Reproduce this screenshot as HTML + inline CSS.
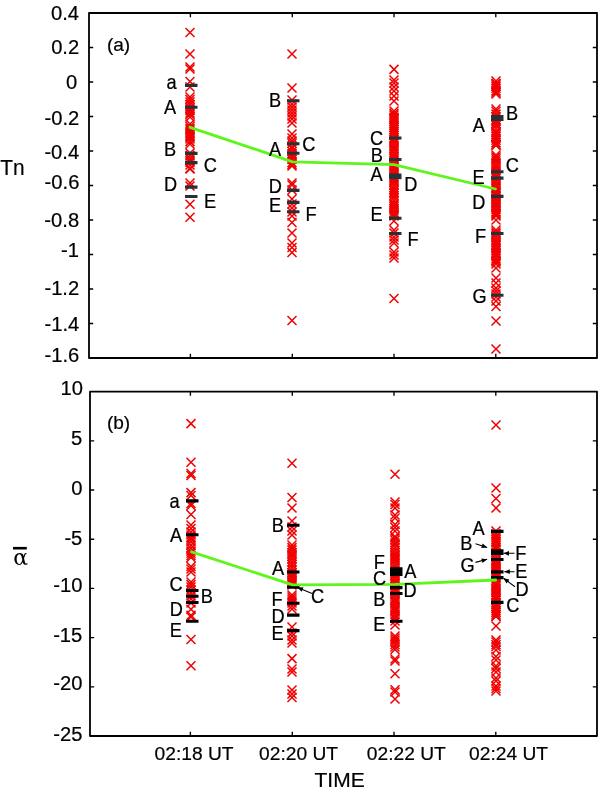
<!DOCTYPE html>
<html><head><meta charset="utf-8"><title>Tn and alpha vs time</title>
<style>html,body{margin:0;padding:0;background:#fff;}svg{display:block;}</style>
</head><body>
<svg width="600" height="792" viewBox="0 0 600 792">
<rect width="600" height="792" fill="#fff"/>
<path d="M89 47.5h4.2M597 47.5h-4.2M89 82.0h4.2M597 82.0h-4.2M89 116.5h4.2M597 116.5h-4.2M89 151.0h4.2M597 151.0h-4.2M89 185.5h4.2M597 185.5h-4.2M89 220.0h4.2M597 220.0h-4.2M89 254.5h4.2M597 254.5h-4.2M89 289.0h4.2M597 289.0h-4.2M89 323.5h4.2M597 323.5h-4.2M190.4 13v4.2M190.4 358v-4.2M292.3 13v4.2M292.3 358v-4.2M394 13v4.2M394 358v-4.2M495.8 13v4.2M495.8 358v-4.2" stroke="#000" stroke-width="1.35" fill="none"/>
<rect x="89" y="13" width="508" height="345" fill="none" stroke="#000" stroke-width="1.8" stroke-linejoin="round"/>
<path d="M90 440.8h4.2M597 440.8h-4.2M90 490.0h4.2M597 490.0h-4.2M90 539.2h4.2M597 539.2h-4.2M90 588.4h4.2M597 588.4h-4.2M90 637.6h4.2M597 637.6h-4.2M90 686.8h4.2M597 686.8h-4.2M190.4 391.6v4.2M190.4 736v-4.2M292.3 391.6v4.2M292.3 736v-4.2M394 391.6v4.2M394 736v-4.2M495.8 391.6v4.2M495.8 736v-4.2" stroke="#000" stroke-width="1.35" fill="none"/>
<rect x="90" y="391.6" width="507" height="344.4" fill="none" stroke="#000" stroke-width="1.8" stroke-linejoin="round"/>
<g font-family='"Liberation Sans", Arial, Helvetica, sans-serif' fill="#000" stroke="#000" stroke-width="0.2">
<text transform="translate(50.92 19.65) scale(1.03 1)" font-size="19.6">0.4</text>
<text transform="translate(51.13 53.65) scale(1.03 1)" font-size="19.6">0.2</text>
<text transform="translate(65.94 88.55) scale(1.03 1)" font-size="19.6">0</text>
<text transform="translate(44.47 124.75) scale(1.03 1)" font-size="19.6">-0.2</text>
<text transform="translate(44.40 158.55) scale(1.03 1)" font-size="19.6">-0.4</text>
<text transform="translate(44.60 189.35) scale(1.03 1)" font-size="19.6">-0.6</text>
<text transform="translate(44.35 226.65) scale(1.03 1)" font-size="19.6">-0.8</text>
<text transform="translate(60.92 257.24) scale(1.03 1)" font-size="19.6">-1</text>
<text transform="translate(44.42 294.64) scale(1.03 1)" font-size="19.6">-1.2</text>
<text transform="translate(44.45 331.04) scale(1.03 1)" font-size="19.6">-1.4</text>
<text transform="translate(44.45 362.05) scale(1.03 1)" font-size="19.6">-1.6</text>
<text transform="translate(60.50 395.05) scale(1.03 1)" font-size="19.6">10</text>
<text transform="translate(71.11 445.25) scale(1.03 1)" font-size="19.6">5</text>
<text transform="translate(71.19 494.65) scale(1.03 1)" font-size="19.6">0</text>
<text transform="translate(64.40 544.55) scale(1.03 1)" font-size="19.6">-5</text>
<text transform="translate(53.31 592.35) scale(1.03 1)" font-size="19.6">-10</text>
<text transform="translate(53.14 642.45) scale(1.03 1)" font-size="19.6">-15</text>
<text transform="translate(53.26 690.45) scale(1.03 1)" font-size="19.6">-20</text>
<text transform="translate(53.29 741.15) scale(1.03 1)" font-size="19.6">-25</text>
<text x="154.56" y="759.61" font-size="19.2">02:18 UT</text>
<text x="259.06" y="759.71" font-size="19.2">02:20 UT</text>
<text x="366.86" y="759.61" font-size="19.2">02:22 UT</text>
<text x="469.06" y="759.61" font-size="19.2">02:24 UT</text>
<text x="314.53" y="786.72" font-size="21">TIME</text>
<text transform="translate(0.25 174.57) scale(0.95 1)" font-size="22">Tn</text>
<text x="106.88" y="50.79" font-size="19.1">(a)</text>
<text x="106.88" y="429.34" font-size="19.1">(b)</text>
</g>
<g stroke="#f00000" stroke-width="1.5" fill="none">
<path d="M185.5 28.0L194.5 37.0M185.5 37.0L194.5 28.0"/>
<path d="M185.5 49.5L194.5 58.5M185.5 58.5L194.5 49.5"/>
<path d="M185.5 62.5L194.5 71.5M185.5 71.5L194.5 62.5"/>
<path d="M185.5 64.5L194.5 73.5M185.5 73.5L194.5 64.5"/>
<path d="M185.5 77.0L194.5 86.0M185.5 86.0L194.5 77.0"/>
<path d="M185.5 82.5L194.5 91.5M185.5 91.5L194.5 82.5"/>
<path d="M185.5 92.5L194.5 101.5M185.5 101.5L194.5 92.5"/>
<path d="M185.5 95.0L194.5 104.0M185.5 104.0L194.5 95.0"/>
<path d="M185.5 97.5L194.5 106.5M185.5 106.5L194.5 97.5"/>
<path d="M185.5 100.0L194.5 109.0M185.5 109.0L194.5 100.0"/>
<path d="M185.5 102.5L194.5 111.5M185.5 111.5L194.5 102.5"/>
<path d="M185.5 104.4L194.5 113.4M185.5 113.4L194.5 104.4"/>
<path d="M185.5 106.1L194.5 115.1M185.5 115.1L194.5 106.1"/>
<path d="M185.5 108.5L194.5 117.5M185.5 117.5L194.5 108.5"/>
<path d="M185.5 110.0L194.5 119.0M185.5 119.0L194.5 110.0"/>
<path d="M185.5 112.5L194.5 121.5M185.5 121.5L194.5 112.5"/>
<path d="M185.5 119.5L194.5 128.5M185.5 128.5L194.5 119.5"/>
<path d="M185.5 122.0L194.5 131.0M185.5 131.0L194.5 122.0"/>
<path d="M185.5 124.0L194.5 133.0M185.5 133.0L194.5 124.0"/>
<path d="M185.5 125.5L194.5 134.5M185.5 134.5L194.5 125.5"/>
<path d="M185.5 127.7L194.5 136.7M185.5 136.7L194.5 127.7"/>
<path d="M185.5 129.2L194.5 138.2M185.5 138.2L194.5 129.2"/>
<path d="M185.5 131.3L194.5 140.3M185.5 140.3L194.5 131.3"/>
<path d="M185.5 132.8L194.5 141.8M185.5 141.8L194.5 132.8"/>
<path d="M185.5 134.5L194.5 143.5M185.5 143.5L194.5 134.5"/>
<path d="M185.5 137.1L194.5 146.1M185.5 146.1L194.5 137.1"/>
<path d="M185.5 139.5L194.5 148.5M185.5 148.5L194.5 139.5"/>
<path d="M185.5 148.5L194.5 157.5M185.5 157.5L194.5 148.5"/>
<path d="M185.5 150.9L194.5 159.9M185.5 159.9L194.5 150.9"/>
<path d="M185.5 154.0L194.5 163.0M185.5 163.0L194.5 154.0"/>
<path d="M185.5 155.8L194.5 164.8M185.5 164.8L194.5 155.8"/>
<path d="M185.5 157.8L194.5 166.8M185.5 166.8L194.5 157.8"/>
<path d="M185.5 160.5L194.5 169.5M185.5 169.5L194.5 160.5"/>
<path d="M185.5 163.8L194.5 172.8M185.5 172.8L194.5 163.8"/>
<path d="M185.5 164.5L194.5 173.5M185.5 173.5L194.5 164.5"/>
<path d="M185.5 178.5L194.5 187.5M185.5 187.5L194.5 178.5"/>
<path d="M185.5 181.5L194.5 190.5M185.5 190.5L194.5 181.5"/>
<path d="M185.5 199.8L194.5 208.8M185.5 208.8L194.5 199.8"/>
<path d="M185.5 212.7L194.5 221.7M185.5 221.7L194.5 212.7"/>
<path d="M287.5 49.5L296.5 58.5M287.5 58.5L296.5 49.5"/>
<path d="M287.5 83.5L296.5 92.5M287.5 92.5L296.5 83.5"/>
<path d="M287.5 95.5L296.5 104.5M287.5 104.5L296.5 95.5"/>
<path d="M287.5 99.5L296.5 108.5M287.5 108.5L296.5 99.5"/>
<path d="M287.5 102.5L296.5 111.5M287.5 111.5L296.5 102.5"/>
<path d="M287.5 105.5L296.5 114.5M287.5 114.5L296.5 105.5"/>
<path d="M287.5 108.5L296.5 117.5M287.5 117.5L296.5 108.5"/>
<path d="M287.5 111.5L296.5 120.5M287.5 120.5L296.5 111.5"/>
<path d="M287.5 114.5L296.5 123.5M287.5 123.5L296.5 114.5"/>
<path d="M287.5 118.5L296.5 127.5M287.5 127.5L296.5 118.5"/>
<path d="M287.5 129.5L296.5 138.5M287.5 138.5L296.5 129.5"/>
<path d="M287.5 133.5L296.5 142.5M287.5 142.5L296.5 133.5"/>
<path d="M287.5 136.5L296.5 145.5M287.5 145.5L296.5 136.5"/>
<path d="M287.5 138.8L296.5 147.8M287.5 147.8L296.5 138.8"/>
<path d="M287.5 142.2L296.5 151.2M287.5 151.2L296.5 142.2"/>
<path d="M287.5 143.9L296.5 152.9M287.5 152.9L296.5 143.9"/>
<path d="M287.5 147.0L296.5 156.0M287.5 156.0L296.5 147.0"/>
<path d="M287.5 149.1L296.5 158.1M287.5 158.1L296.5 149.1"/>
<path d="M287.5 151.0L296.5 160.0M287.5 160.0L296.5 151.0"/>
<path d="M287.5 152.8L296.5 161.8M287.5 161.8L296.5 152.8"/>
<path d="M287.5 154.9L296.5 163.9M287.5 163.9L296.5 154.9"/>
<path d="M287.5 158.0L296.5 167.0M287.5 167.0L296.5 158.0"/>
<path d="M287.5 159.9L296.5 168.9M287.5 168.9L296.5 159.9"/>
<path d="M287.5 161.5L296.5 170.5M287.5 170.5L296.5 161.5"/>
<path d="M287.5 178.5L296.5 187.5M287.5 187.5L296.5 178.5"/>
<path d="M287.5 180.5L296.5 189.5M287.5 189.5L296.5 180.5"/>
<path d="M287.5 185.5L296.5 194.5M287.5 194.5L296.5 185.5"/>
<path d="M287.5 194.5L296.5 203.5M287.5 203.5L296.5 194.5"/>
<path d="M287.5 199.5L296.5 208.5M287.5 208.5L296.5 199.5"/>
<path d="M287.5 203.5L296.5 212.5M287.5 212.5L296.5 203.5"/>
<path d="M287.5 207.5L296.5 216.5M287.5 216.5L296.5 207.5"/>
<path d="M287.5 211.5L296.5 220.5M287.5 220.5L296.5 211.5"/>
<path d="M287.5 218.0L296.5 227.0M287.5 227.0L296.5 218.0"/>
<path d="M287.5 228.5L296.5 237.5M287.5 237.5L296.5 228.5"/>
<path d="M287.5 238.5L296.5 247.5M287.5 247.5L296.5 238.5"/>
<path d="M287.5 243.0L296.5 252.0M287.5 252.0L296.5 243.0"/>
<path d="M287.5 248.0L296.5 257.0M287.5 257.0L296.5 248.0"/>
<path d="M287.5 316.0L296.5 325.0M287.5 325.0L296.5 316.0"/>
<path d="M389.5 64.9L398.5 73.9M389.5 73.9L398.5 64.9"/>
<path d="M389.5 75.5L398.5 84.5M389.5 84.5L398.5 75.5"/>
<path d="M389.5 78.5L398.5 87.5M389.5 87.5L398.5 78.5"/>
<path d="M389.5 82.5L398.5 91.5M389.5 91.5L398.5 82.5"/>
<path d="M389.5 86.5L398.5 95.5M389.5 95.5L398.5 86.5"/>
<path d="M389.5 91.5L398.5 100.5M389.5 100.5L398.5 91.5"/>
<path d="M389.5 96.5L398.5 105.5M389.5 105.5L398.5 96.5"/>
<path d="M389.5 106.5L398.5 115.5M389.5 115.5L398.5 106.5"/>
<path d="M389.5 108.7L398.5 117.7M389.5 117.7L398.5 108.7"/>
<path d="M389.5 110.5L398.5 119.5M389.5 119.5L398.5 110.5"/>
<path d="M389.5 112.6L398.5 121.6M389.5 121.6L398.5 112.6"/>
<path d="M389.5 114.0L398.5 123.0M389.5 123.0L398.5 114.0"/>
<path d="M389.5 115.3L398.5 124.3M389.5 124.3L398.5 115.3"/>
<path d="M389.5 116.9L398.5 125.9M389.5 125.9L398.5 116.9"/>
<path d="M389.5 119.2L398.5 128.2M389.5 128.2L398.5 119.2"/>
<path d="M389.5 121.1L398.5 130.1M389.5 130.1L398.5 121.1"/>
<path d="M389.5 122.8L398.5 131.8M389.5 131.8L398.5 122.8"/>
<path d="M389.5 124.9L398.5 133.9M389.5 133.9L398.5 124.9"/>
<path d="M389.5 126.8L398.5 135.8M389.5 135.8L398.5 126.8"/>
<path d="M389.5 128.6L398.5 137.6M389.5 137.6L398.5 128.6"/>
<path d="M389.5 131.0L398.5 140.0M389.5 140.0L398.5 131.0"/>
<path d="M389.5 133.3L398.5 142.3M389.5 142.3L398.5 133.3"/>
<path d="M389.5 134.9L398.5 143.9M389.5 143.9L398.5 134.9"/>
<path d="M389.5 137.0L398.5 146.0M389.5 146.0L398.5 137.0"/>
<path d="M389.5 139.0L398.5 148.0M389.5 148.0L398.5 139.0"/>
<path d="M389.5 141.6L398.5 150.6M389.5 150.6L398.5 141.6"/>
<path d="M389.5 143.9L398.5 152.9M389.5 152.9L398.5 143.9"/>
<path d="M389.5 145.6L398.5 154.6M389.5 154.6L398.5 145.6"/>
<path d="M389.5 148.3L398.5 157.3M389.5 157.3L398.5 148.3"/>
<path d="M389.5 149.7L398.5 158.7M389.5 158.7L398.5 149.7"/>
<path d="M389.5 151.6L398.5 160.6M389.5 160.6L398.5 151.6"/>
<path d="M389.5 154.0L398.5 163.0M389.5 163.0L398.5 154.0"/>
<path d="M389.5 155.5L398.5 164.5M389.5 164.5L398.5 155.5"/>
<path d="M389.5 157.5L398.5 166.5M389.5 166.5L398.5 157.5"/>
<path d="M389.5 158.8L398.5 167.8M389.5 167.8L398.5 158.8"/>
<path d="M389.5 161.1L398.5 170.1M389.5 170.1L398.5 161.1"/>
<path d="M389.5 163.4L398.5 172.4M389.5 172.4L398.5 163.4"/>
<path d="M389.5 165.5L398.5 174.5M389.5 174.5L398.5 165.5"/>
<path d="M389.5 168.1L398.5 177.1M389.5 177.1L398.5 168.1"/>
<path d="M389.5 169.8L398.5 178.8M389.5 178.8L398.5 169.8"/>
<path d="M389.5 172.1L398.5 181.1M389.5 181.1L398.5 172.1"/>
<path d="M389.5 174.2L398.5 183.2M389.5 183.2L398.5 174.2"/>
<path d="M389.5 176.4L398.5 185.4M389.5 185.4L398.5 176.4"/>
<path d="M389.5 178.3L398.5 187.3M389.5 187.3L398.5 178.3"/>
<path d="M389.5 180.8L398.5 189.8M389.5 189.8L398.5 180.8"/>
<path d="M389.5 183.4L398.5 192.4M389.5 192.4L398.5 183.4"/>
<path d="M389.5 185.4L398.5 194.4M389.5 194.4L398.5 185.4"/>
<path d="M389.5 187.6L398.5 196.6M389.5 196.6L398.5 187.6"/>
<path d="M389.5 189.0L398.5 198.0M389.5 198.0L398.5 189.0"/>
<path d="M389.5 191.3L398.5 200.3M389.5 200.3L398.5 191.3"/>
<path d="M389.5 193.5L398.5 202.5M389.5 202.5L398.5 193.5"/>
<path d="M389.5 196.2L398.5 205.2M389.5 205.2L398.5 196.2"/>
<path d="M389.5 198.7L398.5 207.7M389.5 207.7L398.5 198.7"/>
<path d="M389.5 200.3L398.5 209.3M389.5 209.3L398.5 200.3"/>
<path d="M389.5 202.2L398.5 211.2M389.5 211.2L398.5 202.2"/>
<path d="M389.5 204.4L398.5 213.4M389.5 213.4L398.5 204.4"/>
<path d="M389.5 205.7L398.5 214.7M389.5 214.7L398.5 205.7"/>
<path d="M389.5 207.7L398.5 216.7M389.5 216.7L398.5 207.7"/>
<path d="M389.5 209.2L398.5 218.2M389.5 218.2L398.5 209.2"/>
<path d="M389.5 210.7L398.5 219.7M389.5 219.7L398.5 210.7"/>
<path d="M389.5 211.5L398.5 220.5M389.5 220.5L398.5 211.5"/>
<path d="M389.5 216.5L398.5 225.5M389.5 225.5L398.5 216.5"/>
<path d="M389.5 225.5L398.5 234.5M389.5 234.5L398.5 225.5"/>
<path d="M389.5 228.5L398.5 237.5M389.5 237.5L398.5 228.5"/>
<path d="M389.5 232.5L398.5 241.5M389.5 241.5L398.5 232.5"/>
<path d="M389.5 235.5L398.5 244.5M389.5 244.5L398.5 235.5"/>
<path d="M389.5 238.5L398.5 247.5M389.5 247.5L398.5 238.5"/>
<path d="M389.5 247.5L398.5 256.5M389.5 256.5L398.5 247.5"/>
<path d="M389.5 250.5L398.5 259.5M389.5 259.5L398.5 250.5"/>
<path d="M389.5 253.5L398.5 262.5M389.5 262.5L398.5 253.5"/>
<path d="M389.5 294.0L398.5 303.0M389.5 303.0L398.5 294.0"/>
<path d="M491.5 76.5L500.5 85.5M491.5 85.5L500.5 76.5"/>
<path d="M491.5 78.9L500.5 87.9M491.5 87.9L500.5 78.9"/>
<path d="M491.5 80.4L500.5 89.4M491.5 89.4L500.5 80.4"/>
<path d="M491.5 82.0L500.5 91.0M491.5 91.0L500.5 82.0"/>
<path d="M491.5 83.8L500.5 92.8M491.5 92.8L500.5 83.8"/>
<path d="M491.5 86.4L500.5 95.4M491.5 95.4L500.5 86.4"/>
<path d="M491.5 87.8L500.5 96.8M491.5 96.8L500.5 87.8"/>
<path d="M491.5 89.5L500.5 98.5M491.5 98.5L500.5 89.5"/>
<path d="M491.5 104.5L500.5 113.5M491.5 113.5L500.5 104.5"/>
<path d="M491.5 106.8L500.5 115.8M491.5 115.8L500.5 106.8"/>
<path d="M491.5 109.6L500.5 118.6M491.5 118.6L500.5 109.6"/>
<path d="M491.5 112.3L500.5 121.3M491.5 121.3L500.5 112.3"/>
<path d="M491.5 115.1L500.5 124.1M491.5 124.1L500.5 115.1"/>
<path d="M491.5 116.9L500.5 125.9M491.5 125.9L500.5 116.9"/>
<path d="M491.5 119.0L500.5 128.0M491.5 128.0L500.5 119.0"/>
<path d="M491.5 121.0L500.5 130.0M491.5 130.0L500.5 121.0"/>
<path d="M491.5 123.8L500.5 132.8M491.5 132.8L500.5 123.8"/>
<path d="M491.5 126.7L500.5 135.7M491.5 135.7L500.5 126.7"/>
<path d="M491.5 128.3L500.5 137.3M491.5 137.3L500.5 128.3"/>
<path d="M491.5 130.0L500.5 139.0M491.5 139.0L500.5 130.0"/>
<path d="M491.5 131.8L500.5 140.8M491.5 140.8L500.5 131.8"/>
<path d="M491.5 133.6L500.5 142.6M491.5 142.6L500.5 133.6"/>
<path d="M491.5 135.8L500.5 144.8M491.5 144.8L500.5 135.8"/>
<path d="M491.5 138.1L500.5 147.1M491.5 147.1L500.5 138.1"/>
<path d="M491.5 139.9L500.5 148.9M491.5 148.9L500.5 139.9"/>
<path d="M491.5 141.0L500.5 150.0M491.5 150.0L500.5 141.0"/>
<path d="M491.5 150.5L500.5 159.5M491.5 159.5L500.5 150.5"/>
<path d="M491.5 152.4L500.5 161.4M491.5 161.4L500.5 152.4"/>
<path d="M491.5 154.2L500.5 163.2M491.5 163.2L500.5 154.2"/>
<path d="M491.5 156.3L500.5 165.3M491.5 165.3L500.5 156.3"/>
<path d="M491.5 158.9L500.5 167.9M491.5 167.9L500.5 158.9"/>
<path d="M491.5 161.2L500.5 170.2M491.5 170.2L500.5 161.2"/>
<path d="M491.5 163.2L500.5 172.2M491.5 172.2L500.5 163.2"/>
<path d="M491.5 165.4L500.5 174.4M491.5 174.4L500.5 165.4"/>
<path d="M491.5 167.7L500.5 176.7M491.5 176.7L500.5 167.7"/>
<path d="M491.5 169.0L500.5 178.0M491.5 178.0L500.5 169.0"/>
<path d="M491.5 171.6L500.5 180.6M491.5 180.6L500.5 171.6"/>
<path d="M491.5 174.0L500.5 183.0M491.5 183.0L500.5 174.0"/>
<path d="M491.5 176.5L500.5 185.5M491.5 185.5L500.5 176.5"/>
<path d="M491.5 179.0L500.5 188.0M491.5 188.0L500.5 179.0"/>
<path d="M491.5 180.8L500.5 189.8M491.5 189.8L500.5 180.8"/>
<path d="M491.5 182.7L500.5 191.7M491.5 191.7L500.5 182.7"/>
<path d="M491.5 184.1L500.5 193.1M491.5 193.1L500.5 184.1"/>
<path d="M491.5 186.3L500.5 195.3M491.5 195.3L500.5 186.3"/>
<path d="M491.5 187.7L500.5 196.7M491.5 196.7L500.5 187.7"/>
<path d="M491.5 189.0L500.5 198.0M491.5 198.0L500.5 189.0"/>
<path d="M491.5 190.6L500.5 199.6M491.5 199.6L500.5 190.6"/>
<path d="M491.5 192.1L500.5 201.1M491.5 201.1L500.5 192.1"/>
<path d="M491.5 193.9L500.5 202.9M491.5 202.9L500.5 193.9"/>
<path d="M491.5 195.3L500.5 204.3M491.5 204.3L500.5 195.3"/>
<path d="M491.5 196.5L500.5 205.5M491.5 205.5L500.5 196.5"/>
<path d="M491.5 198.0L500.5 207.0M491.5 207.0L500.5 198.0"/>
<path d="M491.5 199.5L500.5 208.5M491.5 208.5L500.5 199.5"/>
<path d="M491.5 201.3L500.5 210.3M491.5 210.3L500.5 201.3"/>
<path d="M491.5 202.6L500.5 211.6M491.5 211.6L500.5 202.6"/>
<path d="M491.5 205.1L500.5 214.1M491.5 214.1L500.5 205.1"/>
<path d="M491.5 207.3L500.5 216.3M491.5 216.3L500.5 207.3"/>
<path d="M491.5 208.8L500.5 217.8M491.5 217.8L500.5 208.8"/>
<path d="M491.5 210.4L500.5 219.4M491.5 219.4L500.5 210.4"/>
<path d="M491.5 211.5L500.5 220.5M491.5 220.5L500.5 211.5"/>
<path d="M491.5 215.5L500.5 224.5M491.5 224.5L500.5 215.5"/>
<path d="M491.5 225.5L500.5 234.5M491.5 234.5L500.5 225.5"/>
<path d="M491.5 227.5L500.5 236.5M491.5 236.5L500.5 227.5"/>
<path d="M491.5 229.3L500.5 238.3M491.5 238.3L500.5 229.3"/>
<path d="M491.5 230.8L500.5 239.8M491.5 239.8L500.5 230.8"/>
<path d="M491.5 233.3L500.5 242.3M491.5 242.3L500.5 233.3"/>
<path d="M491.5 236.0L500.5 245.0M491.5 245.0L500.5 236.0"/>
<path d="M491.5 237.9L500.5 246.9M491.5 246.9L500.5 237.9"/>
<path d="M491.5 239.9L500.5 248.9M491.5 248.9L500.5 239.9"/>
<path d="M491.5 241.3L500.5 250.3M491.5 250.3L500.5 241.3"/>
<path d="M491.5 242.7L500.5 251.7M491.5 251.7L500.5 242.7"/>
<path d="M491.5 244.5L500.5 253.5M491.5 253.5L500.5 244.5"/>
<path d="M491.5 246.2L500.5 255.2M491.5 255.2L500.5 246.2"/>
<path d="M491.5 248.6L500.5 257.6M491.5 257.6L500.5 248.6"/>
<path d="M491.5 250.2L500.5 259.2M491.5 259.2L500.5 250.2"/>
<path d="M491.5 251.5L500.5 260.5M491.5 260.5L500.5 251.5"/>
<path d="M491.5 254.1L500.5 263.1M491.5 263.1L500.5 254.1"/>
<path d="M491.5 256.2L500.5 265.2M491.5 265.2L500.5 256.2"/>
<path d="M491.5 257.5L500.5 266.5M491.5 266.5L500.5 257.5"/>
<path d="M491.5 259.5L500.5 268.5M491.5 268.5L500.5 259.5"/>
<path d="M491.5 263.5L500.5 272.5M491.5 272.5L500.5 263.5"/>
<path d="M491.5 273.5L500.5 282.5M491.5 282.5L500.5 273.5"/>
<path d="M491.5 278.5L500.5 287.5M491.5 287.5L500.5 278.5"/>
<path d="M491.5 283.5L500.5 292.5M491.5 292.5L500.5 283.5"/>
<path d="M491.5 286.5L500.5 295.5M491.5 295.5L500.5 286.5"/>
<path d="M491.5 289.5L500.5 298.5M491.5 298.5L500.5 289.5"/>
<path d="M491.5 292.5L500.5 301.5M491.5 301.5L500.5 292.5"/>
<path d="M491.5 296.5L500.5 305.5M491.5 305.5L500.5 296.5"/>
<path d="M491.5 302.0L500.5 311.0M491.5 311.0L500.5 302.0"/>
<path d="M491.5 316.5L500.5 325.5M491.5 325.5L500.5 316.5"/>
<path d="M491.5 344.5L500.5 353.5M491.5 353.5L500.5 344.5"/>
</g>
<path d="M185.0 85.4h12.5M185.0 107.2h12.5M185.0 153.4h12.5M185.0 162.6h12.5M185.0 187.1h12.5M185.0 196.5h12.5M287.0 100.7h12.5M287.0 143.8h12.5M287.0 153.3h12.5M287.0 190.4h12.5M287.0 202.4h12.5M287.0 211.8h12.5M389.0 138.0h12.5M389.0 159.5h12.5M389.0 175.0h12.5M389.0 177.8h12.5M389.0 218.2h12.5M389.0 233.5h12.5M491.0 116.5h12.5M491.0 119.4h12.5M491.0 171.7h12.5M491.0 178.1h12.5M491.0 196.4h12.5M491.0 233.5h12.5M491.0 295.3h12.5" stroke="#253238" stroke-width="3.1" fill="none"/>
<polyline points="190,127.3 292.5,161.8 394,164.6 495.5,189" fill="none" stroke="#5ef51a" stroke-width="2.8" stroke-linejoin="round" stroke-linecap="round"/>
<g font-family='"Liberation Sans", Arial, Helvetica, sans-serif' font-size="20.0" fill="#000" stroke="#000" stroke-width="0.25">
<text transform="translate(166.60 89.40) scale(0.91 1)">a</text>
<text transform="translate(164.03 113.70) scale(0.91 1)">A</text>
<text transform="translate(163.91 156.40) scale(0.91 1)">B</text>
<text transform="translate(203.76 172.30) scale(0.91 1)">C</text>
<text transform="translate(163.92 190.70) scale(0.91 1)">D</text>
<text transform="translate(203.97 208.10) scale(0.91 1)">E</text>
<text transform="translate(269.06 107.30) scale(0.91 1)">B</text>
<text transform="translate(302.16 150.70) scale(0.91 1)">C</text>
<text transform="translate(269.08 156.20) scale(0.91 1)">A</text>
<text transform="translate(268.82 192.80) scale(0.91 1)">D</text>
<text transform="translate(268.97 212.10) scale(0.91 1)">E</text>
<text transform="translate(305.41 221.20) scale(0.91 1)">F</text>
<text transform="translate(370.06 144.50) scale(0.91 1)">C</text>
<text transform="translate(370.76 161.90) scale(0.91 1)">B</text>
<text transform="translate(370.38 181.10) scale(0.91 1)">A</text>
<text transform="translate(404.22 190.70) scale(0.91 1)">D</text>
<text transform="translate(370.52 221.40) scale(0.91 1)">E</text>
<text transform="translate(407.41 246.20) scale(0.91 1)">F</text>
<text transform="translate(506.06 119.90) scale(0.91 1)">B</text>
<text transform="translate(472.68 132.20) scale(0.91 1)">A</text>
<text transform="translate(505.86 172.10) scale(0.91 1)">C</text>
<text transform="translate(472.52 184.00) scale(0.91 1)">E</text>
<text transform="translate(472.27 208.70) scale(0.91 1)">D</text>
<text transform="translate(475.11 242.70) scale(0.91 1)">F</text>
<text transform="translate(472.39 303.40) scale(0.91 1)">G</text>
</g>
<g stroke="#f00000" stroke-width="1.5" fill="none">
<path d="M186.5 419.1L195.5 428.1M186.5 428.1L195.5 419.1"/>
<path d="M186.5 457.8L195.5 466.8M186.5 466.8L195.5 457.8"/>
<path d="M186.5 469.0L195.5 478.0M186.5 478.0L195.5 469.0"/>
<path d="M186.5 471.0L195.5 480.0M186.5 480.0L195.5 471.0"/>
<path d="M186.5 488.1L195.5 497.1M186.5 497.1L195.5 488.1"/>
<path d="M186.5 491.0L195.5 500.0M186.5 500.0L195.5 491.0"/>
<path d="M186.5 499.0L195.5 508.0M186.5 508.0L195.5 499.0"/>
<path d="M186.5 501.0L195.5 510.0M186.5 510.0L195.5 501.0"/>
<path d="M186.5 510.0L195.5 519.0M186.5 519.0L195.5 510.0"/>
<path d="M186.5 520.5L195.5 529.5M186.5 529.5L195.5 520.5"/>
<path d="M186.5 524.0L195.5 533.0M186.5 533.0L195.5 524.0"/>
<path d="M186.5 527.5L195.5 536.5M186.5 536.5L195.5 527.5"/>
<path d="M186.5 530.5L195.5 539.5M186.5 539.5L195.5 530.5"/>
<path d="M186.5 533.1L195.5 542.1M186.5 542.1L195.5 533.1"/>
<path d="M186.5 534.7L195.5 543.7M186.5 543.7L195.5 534.7"/>
<path d="M186.5 537.3L195.5 546.3M186.5 546.3L195.5 537.3"/>
<path d="M186.5 540.6L195.5 549.6M186.5 549.6L195.5 540.6"/>
<path d="M186.5 543.8L195.5 552.8M186.5 552.8L195.5 543.8"/>
<path d="M186.5 546.6L195.5 555.6M186.5 555.6L195.5 546.6"/>
<path d="M186.5 548.7L195.5 557.7M186.5 557.7L195.5 548.7"/>
<path d="M186.5 551.0L195.5 560.0M186.5 560.0L195.5 551.0"/>
<path d="M186.5 553.0L195.5 562.0M186.5 562.0L195.5 553.0"/>
<path d="M186.5 562.0L195.5 571.0M186.5 571.0L195.5 562.0"/>
<path d="M186.5 564.5L195.5 573.5M186.5 573.5L195.5 564.5"/>
<path d="M186.5 567.5L195.5 576.5M186.5 576.5L195.5 567.5"/>
<path d="M186.5 577.5L195.5 586.5M186.5 586.5L195.5 577.5"/>
<path d="M186.5 580.0L195.5 589.0M186.5 589.0L195.5 580.0"/>
<path d="M186.5 582.5L195.5 591.5M186.5 591.5L195.5 582.5"/>
<path d="M186.5 585.5L195.5 594.5M186.5 594.5L195.5 585.5"/>
<path d="M186.5 588.5L195.5 597.5M186.5 597.5L195.5 588.5"/>
<path d="M186.5 591.5L195.5 600.5M186.5 600.5L195.5 591.5"/>
<path d="M186.5 594.5L195.5 603.5M186.5 603.5L195.5 594.5"/>
<path d="M186.5 598.5L195.5 607.5M186.5 607.5L195.5 598.5"/>
<path d="M186.5 604.8L195.5 613.8M186.5 613.8L195.5 604.8"/>
<path d="M186.5 610.7L195.5 619.7M186.5 619.7L195.5 610.7"/>
<path d="M186.5 612.5L195.5 621.5M186.5 621.5L195.5 612.5"/>
<path d="M186.5 635.0L195.5 644.0M186.5 644.0L195.5 635.0"/>
<path d="M186.5 661.3L195.5 670.3M186.5 670.3L195.5 661.3"/>
<path d="M287.5 458.7L296.5 467.7M287.5 467.7L296.5 458.7"/>
<path d="M287.5 493.0L296.5 502.0M287.5 502.0L296.5 493.0"/>
<path d="M287.5 503.5L296.5 512.5M287.5 512.5L296.5 503.5"/>
<path d="M287.5 516.5L296.5 525.5M287.5 525.5L296.5 516.5"/>
<path d="M287.5 522.5L296.5 531.5M287.5 531.5L296.5 522.5"/>
<path d="M287.5 526.5L296.5 535.5M287.5 535.5L296.5 526.5"/>
<path d="M287.5 530.5L296.5 539.5M287.5 539.5L296.5 530.5"/>
<path d="M287.5 540.5L296.5 549.5M287.5 549.5L296.5 540.5"/>
<path d="M287.5 543.1L296.5 552.1M287.5 552.1L296.5 543.1"/>
<path d="M287.5 545.4L296.5 554.4M287.5 554.4L296.5 545.4"/>
<path d="M287.5 548.0L296.5 557.0M287.5 557.0L296.5 548.0"/>
<path d="M287.5 550.0L296.5 559.0M287.5 559.0L296.5 550.0"/>
<path d="M287.5 551.7L296.5 560.7M287.5 560.7L296.5 551.7"/>
<path d="M287.5 554.4L296.5 563.4M287.5 563.4L296.5 554.4"/>
<path d="M287.5 557.4L296.5 566.4M287.5 566.4L296.5 557.4"/>
<path d="M287.5 560.1L296.5 569.1M287.5 569.1L296.5 560.1"/>
<path d="M287.5 562.8L296.5 571.8M287.5 571.8L296.5 562.8"/>
<path d="M287.5 565.5L296.5 574.5M287.5 574.5L296.5 565.5"/>
<path d="M287.5 568.1L296.5 577.1M287.5 577.1L296.5 568.1"/>
<path d="M287.5 569.9L296.5 578.9M287.5 578.9L296.5 569.9"/>
<path d="M287.5 572.1L296.5 581.1M287.5 581.1L296.5 572.1"/>
<path d="M287.5 574.1L296.5 583.1M287.5 583.1L296.5 574.1"/>
<path d="M287.5 575.5L296.5 584.5M287.5 584.5L296.5 575.5"/>
<path d="M287.5 577.0L296.5 586.0M287.5 586.0L296.5 577.0"/>
<path d="M287.5 578.8L296.5 587.8M287.5 587.8L296.5 578.8"/>
<path d="M287.5 580.5L296.5 589.5M287.5 589.5L296.5 580.5"/>
<path d="M287.5 590.5L296.5 599.5M287.5 599.5L296.5 590.5"/>
<path d="M287.5 592.5L296.5 601.5M287.5 601.5L296.5 592.5"/>
<path d="M287.5 594.5L296.5 603.5M287.5 603.5L296.5 594.5"/>
<path d="M287.5 596.5L296.5 605.5M287.5 605.5L296.5 596.5"/>
<path d="M287.5 598.5L296.5 607.5M287.5 607.5L296.5 598.5"/>
<path d="M287.5 601.5L296.5 610.5M287.5 610.5L296.5 601.5"/>
<path d="M287.5 604.5L296.5 613.5M287.5 613.5L296.5 604.5"/>
<path d="M287.5 622.5L296.5 631.5M287.5 631.5L296.5 622.5"/>
<path d="M287.5 628.5L296.5 637.5M287.5 637.5L296.5 628.5"/>
<path d="M287.5 631.5L296.5 640.5M287.5 640.5L296.5 631.5"/>
<path d="M287.5 635.5L296.5 644.5M287.5 644.5L296.5 635.5"/>
<path d="M287.5 638.5L296.5 647.5M287.5 647.5L296.5 638.5"/>
<path d="M287.5 654.1L296.5 663.1M287.5 663.1L296.5 654.1"/>
<path d="M287.5 664.5L296.5 673.5M287.5 673.5L296.5 664.5"/>
<path d="M287.5 667.5L296.5 676.5M287.5 676.5L296.5 667.5"/>
<path d="M287.5 685.5L296.5 694.5M287.5 694.5L296.5 685.5"/>
<path d="M287.5 689.5L296.5 698.5M287.5 698.5L296.5 689.5"/>
<path d="M287.5 693.0L296.5 702.0M287.5 702.0L296.5 693.0"/>
<path d="M390.5 469.7L399.5 478.7M390.5 478.7L399.5 469.7"/>
<path d="M390.5 497.5L399.5 506.5M390.5 506.5L399.5 497.5"/>
<path d="M390.5 500.0L399.5 509.0M390.5 509.0L399.5 500.0"/>
<path d="M390.5 503.5L399.5 512.5M390.5 512.5L399.5 503.5"/>
<path d="M390.5 510.5L399.5 519.5M390.5 519.5L399.5 510.5"/>
<path d="M390.5 513.5L399.5 522.5M390.5 522.5L399.5 513.5"/>
<path d="M390.5 520.0L399.5 529.0M390.5 529.0L399.5 520.0"/>
<path d="M390.5 523.0L399.5 532.0M390.5 532.0L399.5 523.0"/>
<path d="M390.5 526.5L399.5 535.5M390.5 535.5L399.5 526.5"/>
<path d="M390.5 532.0L399.5 541.0M390.5 541.0L399.5 532.0"/>
<path d="M390.5 533.5L399.5 542.5M390.5 542.5L399.5 533.5"/>
<path d="M390.5 535.8L399.5 544.8M390.5 544.8L399.5 535.8"/>
<path d="M390.5 538.4L399.5 547.4M390.5 547.4L399.5 538.4"/>
<path d="M390.5 540.4L399.5 549.4M390.5 549.4L399.5 540.4"/>
<path d="M390.5 543.0L399.5 552.0M390.5 552.0L399.5 543.0"/>
<path d="M390.5 545.7L399.5 554.7M390.5 554.7L399.5 545.7"/>
<path d="M390.5 548.3L399.5 557.3M390.5 557.3L399.5 548.3"/>
<path d="M390.5 550.2L399.5 559.2M390.5 559.2L399.5 550.2"/>
<path d="M390.5 551.7L399.5 560.7M390.5 560.7L399.5 551.7"/>
<path d="M390.5 553.4L399.5 562.4M390.5 562.4L399.5 553.4"/>
<path d="M390.5 554.9L399.5 563.9M390.5 563.9L399.5 554.9"/>
<path d="M390.5 556.5L399.5 565.5M390.5 565.5L399.5 556.5"/>
<path d="M390.5 558.7L399.5 567.7M390.5 567.7L399.5 558.7"/>
<path d="M390.5 561.2L399.5 570.2M390.5 570.2L399.5 561.2"/>
<path d="M390.5 563.7L399.5 572.7M390.5 572.7L399.5 563.7"/>
<path d="M390.5 565.7L399.5 574.7M390.5 574.7L399.5 565.7"/>
<path d="M390.5 567.9L399.5 576.9M390.5 576.9L399.5 567.9"/>
<path d="M390.5 570.4L399.5 579.4M390.5 579.4L399.5 570.4"/>
<path d="M390.5 571.8L399.5 580.8M390.5 580.8L399.5 571.8"/>
<path d="M390.5 574.0L399.5 583.0M390.5 583.0L399.5 574.0"/>
<path d="M390.5 576.6L399.5 585.6M390.5 585.6L399.5 576.6"/>
<path d="M390.5 579.0L399.5 588.0M390.5 588.0L399.5 579.0"/>
<path d="M390.5 581.4L399.5 590.4M390.5 590.4L399.5 581.4"/>
<path d="M390.5 583.3L399.5 592.3M390.5 592.3L399.5 583.3"/>
<path d="M390.5 584.9L399.5 593.9M390.5 593.9L399.5 584.9"/>
<path d="M390.5 587.3L399.5 596.3M390.5 596.3L399.5 587.3"/>
<path d="M390.5 589.0L399.5 598.0M390.5 598.0L399.5 589.0"/>
<path d="M390.5 591.5L399.5 600.5M390.5 600.5L399.5 591.5"/>
<path d="M390.5 594.1L399.5 603.1M390.5 603.1L399.5 594.1"/>
<path d="M390.5 596.0L399.5 605.0M390.5 605.0L399.5 596.0"/>
<path d="M390.5 597.9L399.5 606.9M390.5 606.9L399.5 597.9"/>
<path d="M390.5 600.5L399.5 609.5M390.5 609.5L399.5 600.5"/>
<path d="M390.5 602.8L399.5 611.8M390.5 611.8L399.5 602.8"/>
<path d="M390.5 604.3L399.5 613.3M390.5 613.3L399.5 604.3"/>
<path d="M390.5 605.8L399.5 614.8M390.5 614.8L399.5 605.8"/>
<path d="M390.5 607.3L399.5 616.3M390.5 616.3L399.5 607.3"/>
<path d="M390.5 609.9L399.5 618.9M390.5 618.9L399.5 609.9"/>
<path d="M390.5 612.3L399.5 621.3M390.5 621.3L399.5 612.3"/>
<path d="M390.5 613.8L399.5 622.8M390.5 622.8L399.5 613.8"/>
<path d="M390.5 616.5L399.5 625.5M390.5 625.5L399.5 616.5"/>
<path d="M390.5 620.5L399.5 629.5M390.5 629.5L399.5 620.5"/>
<path d="M390.5 631.5L399.5 640.5M390.5 640.5L399.5 631.5"/>
<path d="M390.5 633.5L399.5 642.5M390.5 642.5L399.5 633.5"/>
<path d="M390.5 635.5L399.5 644.5M390.5 644.5L399.5 635.5"/>
<path d="M390.5 637.5L399.5 646.5M390.5 646.5L399.5 637.5"/>
<path d="M390.5 640.0L399.5 649.0M390.5 649.0L399.5 640.0"/>
<path d="M390.5 642.5L399.5 651.5M390.5 651.5L399.5 642.5"/>
<path d="M390.5 645.0L399.5 654.0M390.5 654.0L399.5 645.0"/>
<path d="M390.5 654.5L399.5 663.5M390.5 663.5L399.5 654.5"/>
<path d="M390.5 656.5L399.5 665.5M390.5 665.5L399.5 656.5"/>
<path d="M390.5 669.3L399.5 678.3M390.5 678.3L399.5 669.3"/>
<path d="M390.5 685.2L399.5 694.2M390.5 694.2L399.5 685.2"/>
<path d="M390.5 687.5L399.5 696.5M390.5 696.5L399.5 687.5"/>
<path d="M390.5 694.5L399.5 703.5M390.5 703.5L399.5 694.5"/>
<path d="M491.5 420.5L500.5 429.5M491.5 429.5L500.5 420.5"/>
<path d="M491.5 483.5L500.5 492.5M491.5 492.5L500.5 483.5"/>
<path d="M491.5 494.0L500.5 503.0M491.5 503.0L500.5 494.0"/>
<path d="M491.5 503.5L500.5 512.5M491.5 512.5L500.5 503.5"/>
<path d="M491.5 526.5L500.5 535.5M491.5 535.5L500.5 526.5"/>
<path d="M491.5 529.2L500.5 538.2M491.5 538.2L500.5 529.2"/>
<path d="M491.5 531.4L500.5 540.4M491.5 540.4L500.5 531.4"/>
<path d="M491.5 533.2L500.5 542.2M491.5 542.2L500.5 533.2"/>
<path d="M491.5 535.3L500.5 544.3M491.5 544.3L500.5 535.3"/>
<path d="M491.5 536.7L500.5 545.7M491.5 545.7L500.5 536.7"/>
<path d="M491.5 538.0L500.5 547.0M491.5 547.0L500.5 538.0"/>
<path d="M491.5 540.7L500.5 549.7M491.5 549.7L500.5 540.7"/>
<path d="M491.5 542.9L500.5 551.9M491.5 551.9L500.5 542.9"/>
<path d="M491.5 545.0L500.5 554.0M491.5 554.0L500.5 545.0"/>
<path d="M491.5 547.6L500.5 556.6M491.5 556.6L500.5 547.6"/>
<path d="M491.5 549.5L500.5 558.5M491.5 558.5L500.5 549.5"/>
<path d="M491.5 552.0L500.5 561.0M491.5 561.0L500.5 552.0"/>
<path d="M491.5 554.5L500.5 563.5M491.5 563.5L500.5 554.5"/>
<path d="M491.5 556.1L500.5 565.1M491.5 565.1L500.5 556.1"/>
<path d="M491.5 557.7L500.5 566.7M491.5 566.7L500.5 557.7"/>
<path d="M491.5 559.4L500.5 568.4M491.5 568.4L500.5 559.4"/>
<path d="M491.5 561.1L500.5 570.1M491.5 570.1L500.5 561.1"/>
<path d="M491.5 563.2L500.5 572.2M491.5 572.2L500.5 563.2"/>
<path d="M491.5 564.8L500.5 573.8M491.5 573.8L500.5 564.8"/>
<path d="M491.5 566.7L500.5 575.7M491.5 575.7L500.5 566.7"/>
<path d="M491.5 568.2L500.5 577.2M491.5 577.2L500.5 568.2"/>
<path d="M491.5 570.8L500.5 579.8M491.5 579.8L500.5 570.8"/>
<path d="M491.5 572.6L500.5 581.6M491.5 581.6L500.5 572.6"/>
<path d="M491.5 574.5L500.5 583.5M491.5 583.5L500.5 574.5"/>
<path d="M491.5 576.6L500.5 585.6M491.5 585.6L500.5 576.6"/>
<path d="M491.5 579.2L500.5 588.2M491.5 588.2L500.5 579.2"/>
<path d="M491.5 581.1L500.5 590.1M491.5 590.1L500.5 581.1"/>
<path d="M491.5 583.7L500.5 592.7M491.5 592.7L500.5 583.7"/>
<path d="M491.5 585.7L500.5 594.7M491.5 594.7L500.5 585.7"/>
<path d="M491.5 587.7L500.5 596.7M491.5 596.7L500.5 587.7"/>
<path d="M491.5 589.8L500.5 598.8M491.5 598.8L500.5 589.8"/>
<path d="M491.5 591.1L500.5 600.1M491.5 600.1L500.5 591.1"/>
<path d="M491.5 593.0L500.5 602.0M491.5 602.0L500.5 593.0"/>
<path d="M491.5 594.5L500.5 603.5M491.5 603.5L500.5 594.5"/>
<path d="M491.5 595.8L500.5 604.8M491.5 604.8L500.5 595.8"/>
<path d="M491.5 598.3L500.5 607.3M491.5 607.3L500.5 598.3"/>
<path d="M491.5 599.8L500.5 608.8M491.5 608.8L500.5 599.8"/>
<path d="M491.5 601.8L500.5 610.8M491.5 610.8L500.5 601.8"/>
<path d="M491.5 604.1L500.5 613.1M491.5 613.1L500.5 604.1"/>
<path d="M491.5 606.2L500.5 615.2M491.5 615.2L500.5 606.2"/>
<path d="M491.5 607.9L500.5 616.9M491.5 616.9L500.5 607.9"/>
<path d="M491.5 609.9L500.5 618.9M491.5 618.9L500.5 609.9"/>
<path d="M491.5 611.5L500.5 620.5M491.5 620.5L500.5 611.5"/>
<path d="M491.5 612.0L500.5 621.0M491.5 621.0L500.5 612.0"/>
<path d="M491.5 621.5L500.5 630.5M491.5 630.5L500.5 621.5"/>
<path d="M491.5 635.5L500.5 644.5M491.5 644.5L500.5 635.5"/>
<path d="M491.5 637.5L500.5 646.5M491.5 646.5L500.5 637.5"/>
<path d="M491.5 640.0L500.5 649.0M491.5 649.0L500.5 640.0"/>
<path d="M491.5 642.0L500.5 651.0M491.5 651.0L500.5 642.0"/>
<path d="M491.5 645.5L500.5 654.5M491.5 654.5L500.5 645.5"/>
<path d="M491.5 652.0L500.5 661.0M491.5 661.0L500.5 652.0"/>
<path d="M491.5 655.5L500.5 664.5M491.5 664.5L500.5 655.5"/>
<path d="M491.5 661.5L500.5 670.5M491.5 670.5L500.5 661.5"/>
<path d="M491.5 664.0L500.5 673.0M491.5 673.0L500.5 664.0"/>
<path d="M491.5 667.5L500.5 676.5M491.5 676.5L500.5 667.5"/>
<path d="M491.5 673.5L500.5 682.5M491.5 682.5L500.5 673.5"/>
<path d="M491.5 676.5L500.5 685.5M491.5 685.5L500.5 676.5"/>
<path d="M491.5 681.5L500.5 690.5M491.5 690.5L500.5 681.5"/>
<path d="M491.5 684.0L500.5 693.0M491.5 693.0L500.5 684.0"/>
<path d="M491.5 686.5L500.5 695.5M491.5 695.5L500.5 686.5"/>
</g>
<path d="M186.0 500.9h12.5M186.0 534.8h12.5M186.0 590.5h12.5M186.0 596.2h12.5M186.0 602.5h12.5M186.0 621.3h12.5M287.0 525.3h12.5M287.0 572.0h12.5M287.0 587.1h12.5M287.0 603.2h12.5M287.0 615.1h12.5M287.0 630.6h12.5M390.0 568.9h12.5M390.0 571.7h12.5M390.0 574.4h12.5M390.0 587.6h12.5M390.0 593.5h12.5M390.0 621.2h12.5M491.0 531.4h12.5M491.0 550.7h12.5M491.0 553.4h12.5M491.0 559.5h12.5M491.0 571.9h12.5M491.0 577.6h12.5M491.0 602.4h12.5" stroke="#000" stroke-width="3.1" fill="none"/>
<polyline points="191.5,551.8 292.6,584.8 395,584.3 495.7,580" fill="none" stroke="#5ef51a" stroke-width="2.8" stroke-linejoin="round" stroke-linecap="round"/>
<g font-family='"Liberation Sans", Arial, Helvetica, sans-serif' font-size="20.0" fill="#000" stroke="#000" stroke-width="0.25">
<text transform="translate(169.45 507.70) scale(0.91 1)">a</text>
<text transform="translate(169.98 541.60) scale(0.91 1)">A</text>
<text transform="translate(169.56 591.00) scale(0.91 1)">C</text>
<text transform="translate(200.86 602.90) scale(0.91 1)">B</text>
<text transform="translate(169.72 615.70) scale(0.91 1)">D</text>
<text transform="translate(169.87 637.10) scale(0.91 1)">E</text>
<text transform="translate(271.66 532.30) scale(0.91 1)">B</text>
<text transform="translate(271.88 575.30) scale(0.91 1)">A</text>
<text transform="translate(311.11 602.70) scale(0.91 1)">C</text>
<text transform="translate(271.46 606.10) scale(0.91 1)">F</text>
<text transform="translate(271.47 622.90) scale(0.91 1)">D</text>
<text transform="translate(271.42 640.30) scale(0.91 1)">E</text>
<text transform="translate(373.86 568.70) scale(0.91 1)">F</text>
<text transform="translate(404.28 578.00) scale(0.91 1)">A</text>
<text transform="translate(372.96 584.70) scale(0.91 1)">C</text>
<text transform="translate(403.42 597.40) scale(0.91 1)">D</text>
<text transform="translate(373.36 606.00) scale(0.91 1)">B</text>
<text transform="translate(373.27 630.70) scale(0.91 1)">E</text>
<text transform="translate(472.43 534.70) scale(0.91 1)">A</text>
<text transform="translate(460.16 549.70) scale(0.91 1)">B</text>
<text transform="translate(460.39 571.70) scale(0.91 1)">G</text>
<text transform="translate(515.26 560.20) scale(0.91 1)">F</text>
<text transform="translate(515.17 578.40) scale(0.91 1)">E</text>
<text transform="translate(515.47 596.40) scale(0.91 1)">D</text>
<text transform="translate(506.31 612.20) scale(0.91 1)">C</text>
</g>
<path d="M312 593.5L297.5 587.4M475.5 543.7L487.2 547.5M475.5 562.4L487.2 559.3M514.5 553.3L503.5 553.3M514.5 571.7L504.3 571.7M515 586.7L503.5 578.3" stroke="#000" stroke-width="1.1" fill="none"/>
<path d="M297.5 587.4L303.5 587.3L301.6 591.7ZM487.2 547.5L481.2 548.1L482.7 543.5ZM487.2 559.3L482.5 563.0L481.3 558.4ZM503.5 553.3L509.0 550.9L509.0 555.7ZM504.3 571.7L509.8 569.3L509.8 574.1ZM503.5 578.3L509.4 579.6L506.5 583.5Z" fill="#000"/>
<text x="13.32" y="564.73" font-size="22" font-family='"DejaVu Serif", "Liberation Serif", serif'>α</text>
<path d="M13 548.2H26.8" stroke="#000" stroke-width="2.6"/>
</svg>
</body></html>
